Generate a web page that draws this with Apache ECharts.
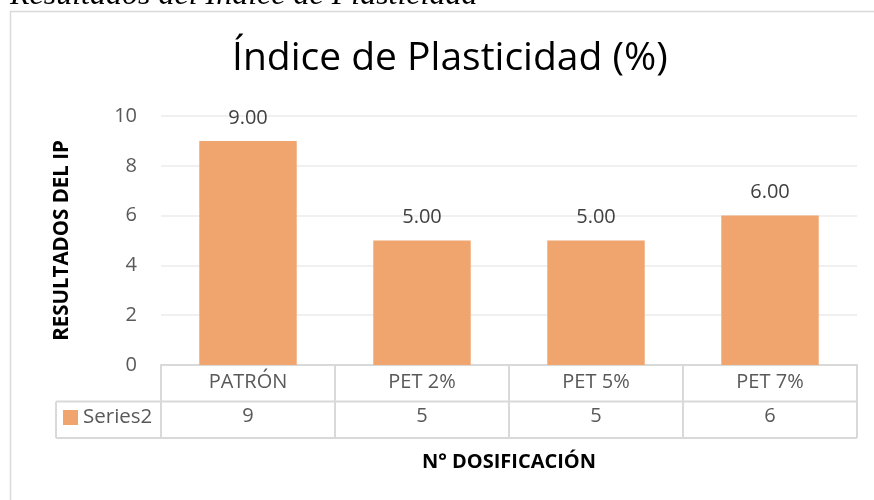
<!DOCTYPE html>
<html><head><meta charset="utf-8">
<script src="https://cdn.jsdelivr.net/npm/echarts@6/dist/echarts.min.js"></script>
<style>html,body{margin:0;padding:0;background:#fff}#c{width:874px;height:500px}</style>
</head><body><div id="c"></div>
<script>
const categories = ['PATRÓN', 'PET 2%', 'PET 5%', 'PET 7%'];
const seriesName = 'Series2';
const values = [9, 5, 5, 6];
const yTicks = [0, 2, 4, 6, 8, 10];
const chartTitle = 'Índice de Plasticidad (%)';
const captionText = 'Resultados del Índice de Plasticidad';
const xName = 'N° DOSIFICACIÓN';
const yName = 'RESULTADOS DEL IP';

const FONT = '"Open Sans", "Noto Sans", sans-serif';
const GRAY = '#595959';
const LINE = '#d9d9d9';
const BAR = '#F0A46E';

const chart = echarts.init(document.getElementById('c'));
const L = 161, R = 857, TOP = 116, BOT = 365, ROW = 36.5;
chart.setOption({
  animation: false,
  title: {
    text: chartTitle, left: 227, top: 34,
    textStyle: {fontFamily: FONT, fontSize: 39, fontWeight: 'normal', color: '#000'}
  },
  grid: {left: L, right: 874 - R, top: TOP, bottom: 500 - BOT, containLabel: false},
  xAxis: [{
    type: 'category', data: categories, position: 'bottom',
    axisLine: {show: true, lineStyle: {color: LINE, width: 2}},
    axisTick: {show: true, length: ROW * 2, alignWithLabel: false, lineStyle: {color: LINE, width: 2}},
    axisLabel: {color: GRAY, fontFamily: FONT, fontSize: 20, margin: 7},
    name: xName, nameLocation: 'middle', nameGap: 87,
    nameTextStyle: {fontFamily: FONT, fontSize: 20, fontWeight: 'bold', color: '#000'}
  }, {
    type: 'category', data: values.map(v => String(v)), position: 'bottom', offset: ROW,
    axisLine: {show: false}, axisTick: {show: false},
    axisLabel: {color: GRAY, fontFamily: FONT, fontSize: 20, margin: 5}
  }],
  yAxis: {
    type: 'value', min: 0, max: 10, interval: 2,
    axisLine: {show: false}, axisTick: {show: false},
    axisLabel: {color: GRAY, fontFamily: FONT, fontSize: 20, margin: 24},
    splitLine: {lineStyle: {color: '#ebebeb', width: 1.5}},
    name: yName, nameLocation: 'middle', nameGap: 88,
    nameTextStyle: {fontFamily: FONT, fontSize: 20.5, fontWeight: 'bold', color: '#000'}
  },
  series: [{
    type: 'bar', name: seriesName, data: values, barWidth: '56%', xAxisIndex: 0,
    itemStyle: {color: BAR},
    label: {show: true, position: 'top', distance: 13, formatter: p => p.value.toFixed(2),
      color: '#404040', fontFamily: FONT, fontSize: 20}
  }],
  graphic: [
    {type: 'rect', shape: {x: 10.5, y: 11.5, width: 900, height: 600}, style: {fill: 'none', stroke: LINE, lineWidth: 1.5}, silent: true},
    {type: 'text', x: 10, y: 12, style: {text: captionText, font: 'italic 32px "Liberation Serif", serif', fill: '#000', textVerticalAlign: 'bottom'}},
    {type: 'line', shape: {x1: 56, y1: BOT + ROW, x2: R, y2: BOT + ROW}, style: {stroke: LINE, lineWidth: 2}},
    {type: 'line', shape: {x1: 56, y1: BOT + 2 * ROW, x2: R, y2: BOT + 2 * ROW}, style: {stroke: LINE, lineWidth: 2}},
    {type: 'line', shape: {x1: 56, y1: BOT + ROW, x2: 56, y2: BOT + 2 * ROW}, style: {stroke: LINE, lineWidth: 2}},
    {type: 'line', shape: {x1: R, y1: BOT, x2: R, y2: BOT + 2 * ROW}, style: {stroke: LINE, lineWidth: 2}},
    {type: 'rect', shape: {x: 63, y: 410, width: 15, height: 15}, style: {fill: BAR}},
    {type: 'text', x: 83, y: 417, style: {text: seriesName, font: '20.5px ' + FONT, fill: GRAY, textVerticalAlign: 'middle'}}
  ]
});
</script></body></html>
